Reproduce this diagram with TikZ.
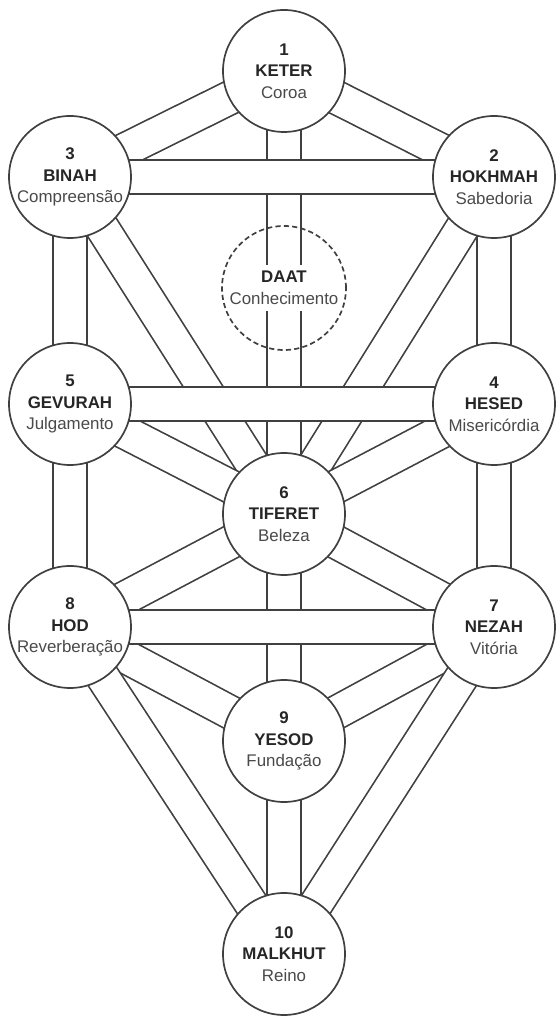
\documentclass[tikz,border=0pt]{standalone}
\usepackage{fontspec}
\setmainfont{Liberation Sans}
\usetikzlibrary{backgrounds}
\definecolor{linegray}{HTML}{404040}
\definecolor{textgray}{HTML}{262626}
\definecolor{softgray}{HTML}{4A4A4A}
\def\sefl#1#2#3{\textbf{#1}\\\textbf{#2}\\\textcolor{softgray}{#3}}
\tikzset{
	sefira/.style={circle, draw=linegray, line width=1.2pt, fill=white, minimum size=3.05cm, inner sep=0pt, align=center, text=textgray, font=\fontsize{12}{15.3}\selectfont},
	daat/.style={circle, draw=linegray, line width=1.2pt, dash pattern=on 0.13cm off 0.08cm, minimum size=3.1cm, inner sep=0pt},
	daatlabel/.style={fill=white, inner xsep=0pt, inner ysep=0.15cm, align=center, text=textgray, font=\fontsize{12}{15.3}\selectfont},
	channel/.style={draw=linegray, line width=1.2pt, double=white, double distance=0.8cm}
}

\begin{document}
\begin{tikzpicture}
		\useasboundingbox (0, 0) rectangle (13.9, 25.4);
		
		%%%%% SEFIROT %%%%%
		\node[sefira] (keter)   at (7.1, 23.625)  {\sefl{1}{KETER}{Coroa}};
		\node[sefira] (binah)   at (1.75, 20.975) {\sefl{3}{BINAH}{Compreensão}};
		\node[sefira] (hokhmah) at (12.35, 20.975) {\sefl{2}{HOKHMAH}{Sabedoria}};
		\node[daat]   (daat)    at (7.1, 18.2) {};
		\node[daatlabel] (daattext) at (daat) {\textbf{DAAT}\\\textcolor{softgray}{Conhecimento}};
		\node[sefira] (gevurah) at (1.75, 15.3)  {\sefl{5}{GEVURAH}{Julgamento}};
		\node[sefira] (hesed)   at (12.35, 15.3) {\sefl{4}{HESED}{Misericórdia}};
		\node[sefira] (tiferet) at (7.1, 12.55)  {\sefl{6}{TIFERET}{Beleza}};
		\node[sefira] (hod)     at (1.75, 9.725) {\sefl{8}{HOD}{Reverberação}};
		\node[sefira] (nezah)   at (12.35, 9.725) {\sefl{7}{NEZAH}{Vitória}};
		\node[sefira] (yesod)   at (7.1, 6.875)  {\sefl{9}{YESOD}{Fundação}};
		\node[sefira] (malkhut) at (7.1, 1.55)   {\sefl{10}{MALKHUT}{Reino}};
		
		%%%%% PATHS %%%%%
		\begin{scope}[on background layer]
			% diagonal
			\foreach \a/\b in {keter/binah, keter/hokhmah, binah/tiferet, hokhmah/tiferet, gevurah/tiferet, hesed/tiferet, tiferet/hod, tiferet/nezah, hod/yesod, nezah/yesod, hod/malkhut, nezah/malkhut}
				\draw[channel] (\a.center) -- (\b.center);
			% vertical
			\foreach \a/\b in {keter/tiferet, binah/gevurah, gevurah/hod, hokhmah/hesed, hesed/nezah, tiferet/yesod, yesod/malkhut}
				\draw[channel] (\a.center) -- (\b.center);
			% horizontal
			\foreach \a/\b in {binah/hokhmah, gevurah/hesed, hod/nezah}
				\draw[channel] (\a.center) -- (\b.center);
		\end{scope}
	\end{tikzpicture}
\end{document}
